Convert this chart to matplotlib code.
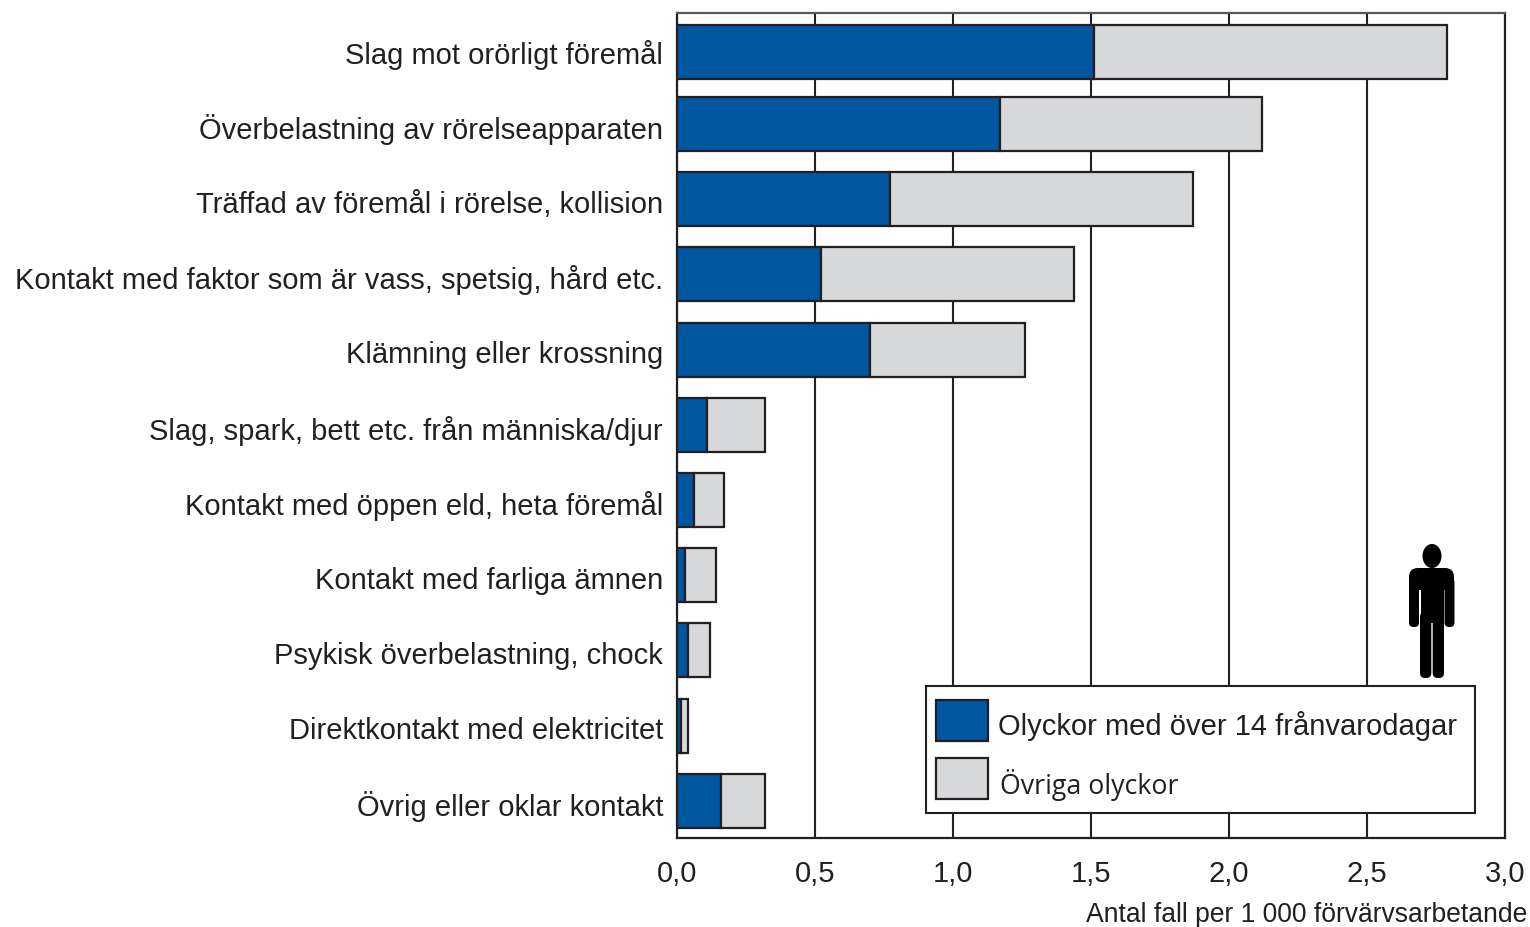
import matplotlib
matplotlib.use("Agg")
import matplotlib.pyplot as plt
from matplotlib.patches import Rectangle, Ellipse, FancyBboxPatch
from matplotlib.transforms import Affine2D

categories = ["Slag mot orörligt föremål", "Överbelastning av rörelseapparaten",
              "Träffad av föremål i rörelse, kollision",
              "Kontakt med faktor som är vass, spetsig, hård etc.",
              "Klämning eller krossning", "Slag, spark, bett etc. från människa/djur",
              "Kontakt med öppen eld, heta föremål", "Kontakt med farliga ämnen",
              "Psykisk överbelastning, chock", "Direktkontakt med elektricitet",
              "Övrig eller oklar kontakt"]
severe = [1.51, 1.17, 0.77, 0.52, 0.70, 0.11, 0.06, 0.03, 0.04, 0.015, 0.16]
other = [1.28, 0.95, 1.10, 0.92, 0.56, 0.21, 0.11, 0.11, 0.08, 0.025, 0.16]
xticks = [0, 0.5, 1.0, 1.5, 2.0, 2.5, 3.0]
xlabels = ["0,0", "0,5", "1,0", "1,5", "2,0", "2,5", "3,0"]
legend_labels = ["Olyckor med över 14 frånvarodagar", "Övriga olyckor"]
BLUE, GREY, DARK = "#00569F", "#D7D8DA", "#231F20"
W, H = 1530, 927
plt.rcParams["font.family"] = ["Liberation Sans", "DejaVu Sans"]

fig = plt.figure(figsize=(W/100, H/100), dpi=100)
L, R, T, B = 677, 1505, 13, 838
ax = fig.add_axes([L/W, 1-B/H, (R-L)/W, (B-T)/H])
# y axis runs in pixel rows so the slightly uneven bar spacing of the original is kept
step = 75.2
ypos = [52] + [124 + step*i for i in range(len(categories)-1)]
ylab = [52] + [p + 2.8 for p in ypos[1:]]
ax.barh(ypos, severe, height=54, color=BLUE, edgecolor=DARK, linewidth=1.6, zorder=3)
ax.barh(ypos, other, left=severe, height=54, color=GREY, edgecolor=DARK, linewidth=1.6, zorder=3)
ax.set_xlim(0, 3)
ax.set_ylim(B, T)
ax.set_xticks(xticks)
ax.set_xticklabels(xlabels, fontsize=21, color=DARK)
ax.set_yticks(ylab)
ax.set_yticklabels(categories, fontsize=20.95, color=DARK)
ax.tick_params(axis="x", length=0, pad=16)
ax.tick_params(axis="y", length=0, pad=10)
ax.grid(axis="x", color=DARK, linewidth=1.5, zorder=1)
ax.set_axisbelow(True)
for s in ax.spines.values():
    s.set_color(DARK); s.set_linewidth(1.6)
ax.spines["top"].set_color("#5A5859")
fig.text(1527/W, 1-915/H, "Antal fall per 1 000 förvärvsarbetande", ha="right", va="center", fontsize=19.1, color=DARK)

px = Affine2D().scale(1, -1).translate(0, H)
def add(p):
    p.set_transform(px); p.set_clip_on(False); fig.add_artist(p)
add(Rectangle((926, 686), 549, 127, fc="white", ec=DARK, lw=1.5, zorder=5))
add(Rectangle((936, 700), 52, 41, fc=BLUE, ec=DARK, lw=1.6, zorder=6))
add(Rectangle((936, 758), 52, 41, fc=GREY, ec=DARK, lw=1.6, zorder=6))
fig.text(998/W, 1-726/H, legend_labels[0], va="center", fontsize=21, color=DARK, zorder=7)
fig.text(1000/W, 1-785/H, legend_labels[1], va="center", fontsize=19.3, color=DARK, zorder=7, family=["Open Sans", "DejaVu Sans"])

# person icon
k = "black"
add(Ellipse((1432, 556), 19, 24, fc=k, ec="none", zorder=6))
add(FancyBboxPatch((1409, 568), 45, 22, boxstyle="round,pad=0,rounding_size=9", fc=k, ec="none", zorder=6))
add(FancyBboxPatch((1409, 578), 10, 49, boxstyle="round,pad=0,rounding_size=4.5", fc=k, ec="none", zorder=6))
add(FancyBboxPatch((1444.5, 578), 10, 49, boxstyle="round,pad=0,rounding_size=4.5", fc=k, ec="none", zorder=6))
add(Rectangle((1420.5, 575), 23, 48, fc=k, ec="none", zorder=6))
add(FancyBboxPatch((1420, 612), 11.3, 66, boxstyle="round,pad=0,rounding_size=5", fc=k, ec="none", zorder=6))
add(FancyBboxPatch((1432.7, 612), 11.3, 66, boxstyle="round,pad=0,rounding_size=5", fc=k, ec="none", zorder=6))
fig.savefig("out.png", dpi=100)
